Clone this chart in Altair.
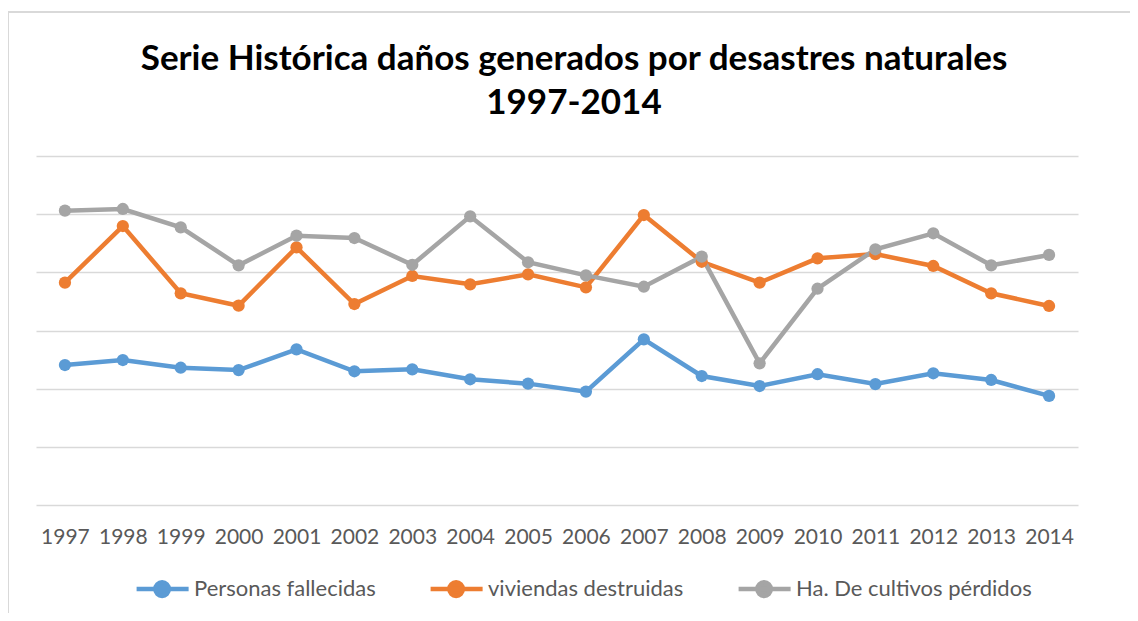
import altair as alt
import pandas as pd

years = [str(y) for y in range(1997, 2015)]
series = ["Personas fallecidas", "viviendas destruidas", "Ha. De cultivos pérdidos"]
colors = ["#5B9BD5", "#ED7D31", "#A5A5A5"]

fallecidas = [255, 311, 229, 209, 475, 199, 215, 145, 122, 89, 705, 165, 111, 177, 120, 184, 141, 75]
viviendas = [6640, 62500, 4360, 2670, 26900, 2850, 8650, 6220, 9250, 5520, 96700, 15200, 6640, 17400, 20600, 12850, 4360, 2640]
hectareas = [114800, 122700, 59400, 13200, 42700, 38900, 13500, 91800, 14900, 8880, 5660, 18600, 273, 5230, 24900, 46900, 13200, 19900]

rows = []
for i, (name, vals) in enumerate(zip(series, [fallecidas, viviendas, hectareas])):
    for y, v in zip(years, vals):
        rows.append({"year": y, "serie": name, "valor": v, "ord": i})
df = pd.DataFrame(rows)

grid_values = [1, 10, 100, 1000, 10000, 100000, 1000000]

sym = "M-1,0H4M2.1,0A0.65,0.65 0 1 1 0.8,0A0.65,0.65 0 1 1 2.1,0Z"

x = alt.X("year:O", title=None, sort=years,
          scale=alt.Scale(type="point", padding=0.5),
          axis=alt.Axis(labelAngle=0, labelFont="Lato", labelFontSize=21,
                        labelColor="#595959", ticks=False, domain=False,
                        grid=False, labelPadding=21))
y = alt.Y("valor:Q", title=None,
          scale=alt.Scale(type="log", domain=[1, 1000000]),
          axis=alt.Axis(values=grid_values, labels=False, ticks=False, domain=False,
                        grid=True, gridColor="#D9D9D9", gridWidth=1.3))

leg = alt.Legend(orient="none", legendX=98, legendY=420,
                 direction="horizontal", symbolType=sym,
                 symbolSize=433, symbolStrokeWidth=4.5, symbolOpacity=1,
                 labelFont="Lato", labelFontSize=22, labelLimit=0,
                 labelColor="#595959", labelOffset=34,
                 columnPadding=45)
cscale = alt.Scale(domain=series, range=colors)

lines = alt.Chart(df).mark_line(strokeWidth=4.5).encode(
    x=x, y=y, color=alt.Color("serie:N", sort=series, scale=cscale, title=None, legend=leg),
    order=alt.Order("ord:Q"))
points = alt.Chart(df).mark_point(filled=True, size=150, opacity=1, strokeWidth=1).encode(
    x=x, y=y,
    fill=alt.Fill("serie:N", sort=series, scale=cscale, title=None, legend=leg))

frame = alt.Chart(df).mark_rule(color="#D9D9D9", strokeWidth=1.5).encode(
    x=alt.value(-28), x2=alt.value(1200), y=alt.value(-144))
frame2 = alt.Chart(df).mark_rule(color="#D9D9D9", strokeWidth=1.5).encode(
    x=alt.value(-28), y=alt.value(-144), y2=alt.value(600))

chart = alt.layer(frame, frame2, lines, points).properties(
    width=1042, height=349,
    title=alt.TitleParams(
        text=["Serie Histórica daños generados por desastres naturales", "1997-2014"],
        anchor="middle", frame="group", font="Lato", fontSize=35, fontWeight="bold",
        color="#000000", lineHeight=44, offset=-110, dx=17),
    autosize=alt.AutoSizeParams(type="none"),
    padding={"left": 28, "top": 148, "right": 52, "bottom": 108},
).configure_view(stroke=None)

chart.save("out.html", embed_options={"renderer": "svg", "actions": False})
